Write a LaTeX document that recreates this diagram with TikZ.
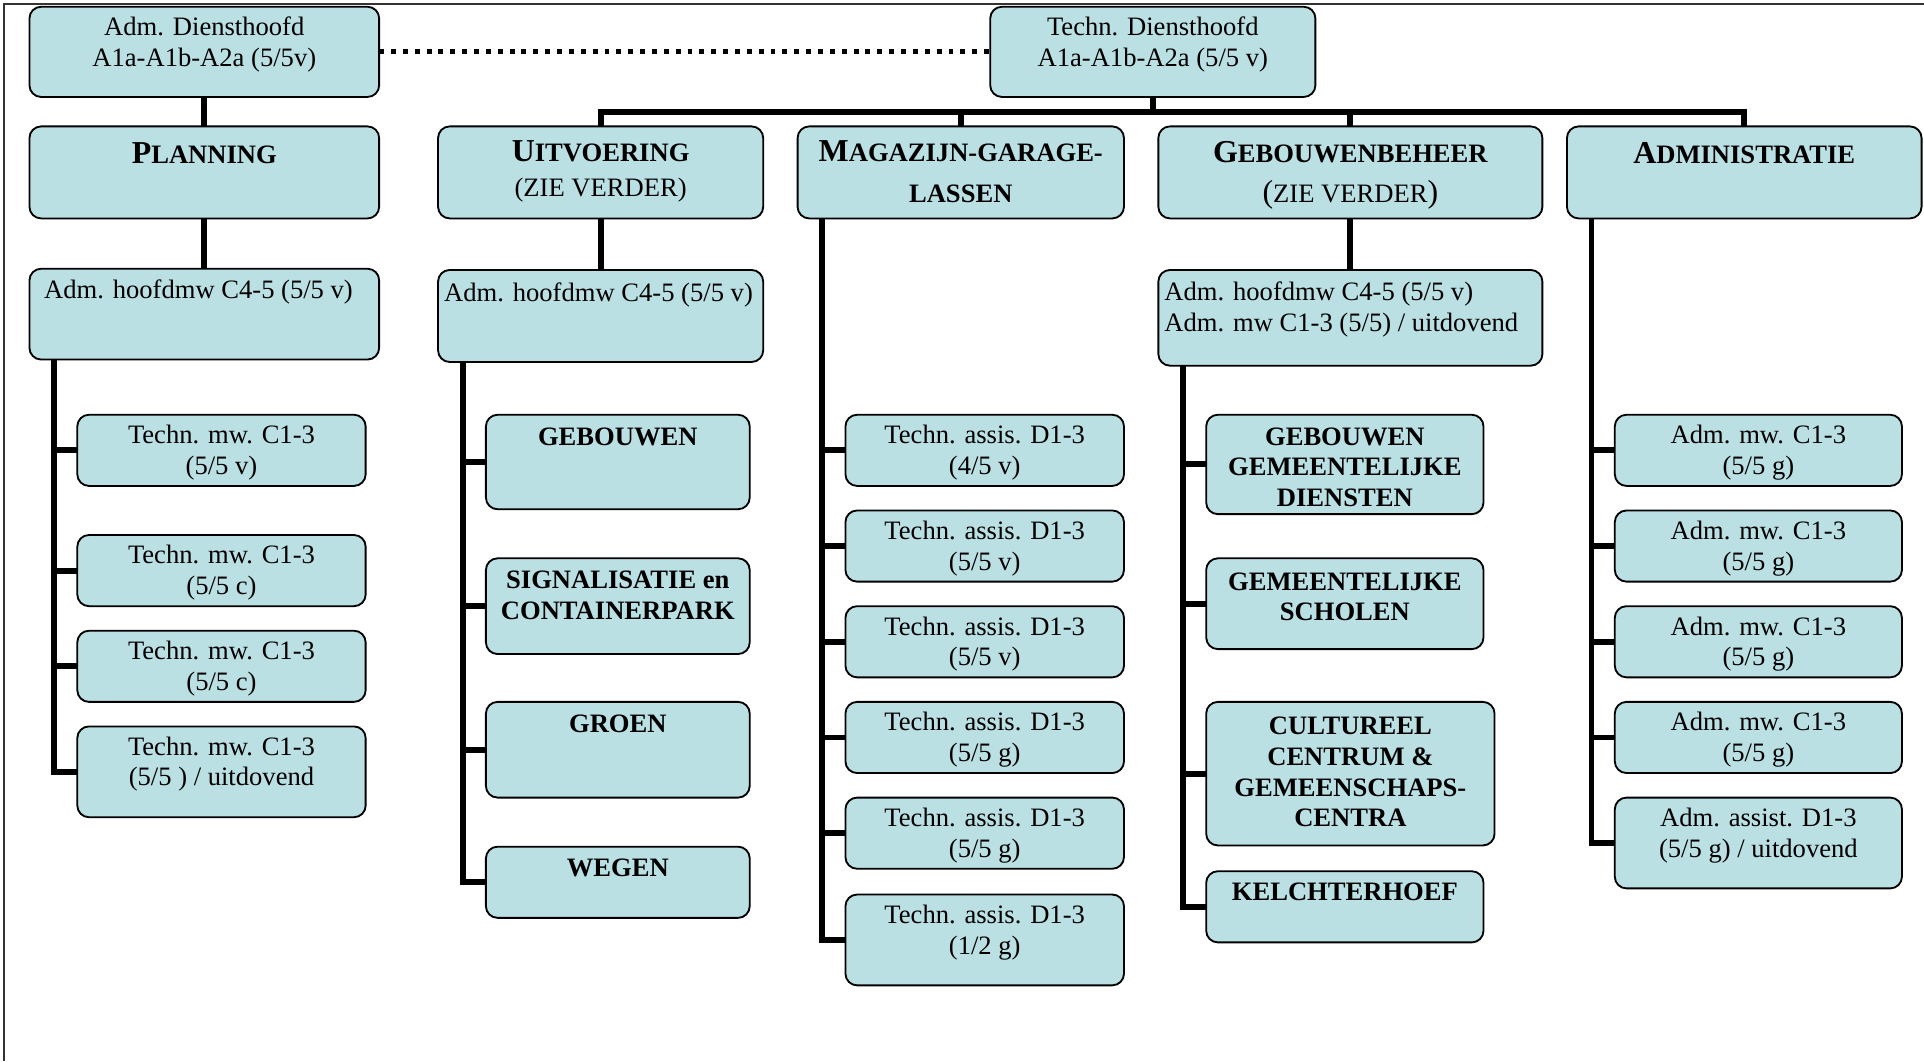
\documentclass[tikz,border=0pt]{standalone}
\usepackage{fontspec}
\setmainfont{Liberation Serif}
\definecolor{boxfill}{HTML}{BAE0E3}
\newcommand{\obox}[5]{\node[orgbox, minimum width={(#4-#2)*0.6pt}, minimum height={(#5-#3)*0.6pt}] (#1) at ({(#2+#4)/2},{(#3+#5)/2}) {};}
\newcommand{\hcap}[1]{{\fontsize{15.6}{15.6}\selectfont #1}}
\newcommand{\ctext}[4][txt]{\node[#1, anchor=north] at ([yshift=#2]#3.north) {#4};}
\tikzset{
  orgbox/.style={draw=black, line width=0.9pt, fill=boxfill, rounded corners=5.7pt, inner sep=0pt, outer sep=0pt},
  conn/.style={draw=black, line width=2.9pt, line join=miter},
  barline/.style={draw=black, line width=3pt, line join=miter},
  dotline/.style={draw=black, line width=2.5pt, dash pattern=on 2.4pt off 3.4pt},
  frameline/.style={draw=black!80, line width=0.8pt},
  txt/.style={inner sep=0pt, outer sep=0pt, align=center, font=\fontsize{13}{15}\selectfont, execute at begin node=\strut},
  btxt/.style={txt, font=\fontsize{13}{15}\selectfont\bfseries},
  ltxt/.style={txt, align=left},
  htxt/.style={inner sep=0pt, outer sep=0pt, align=center, font=\fontsize{13}{15.6}\selectfont\bfseries, execute at begin node=\strut},
}
\begin{document}
\begin{tikzpicture}[x=0.6pt,y=-0.6pt]
\useasboundingbox (0,0) rectangle (1568,865);
\draw[frameline] (1568,3.5) -- (3.5,3.5) -- (3.5,865);
% top level
\obox{admh}{24}{5.5}{309}{79}
\obox{techh}{807}{5.5}{1072}{79}
% row 2
\obox{plan}{24}{103}{309}{178}
\obox{uit}{357}{103}{622}{178}
\obox{mag}{650}{103}{916}{178}
\obox{geb}{944}{103}{1257}{178}
\obox{adm}{1277}{103}{1566}{178}
% row 3
\obox{p3}{24}{219}{309}{293}
\obox{u3}{357}{220}{622}{295}
\obox{g3}{944}{220}{1257}{298}
% planning children
\obox{pa}{63}{338}{298}{396}
\obox{pb}{63}{436}{298}{494}
\obox{pc}{63}{514}{298}{572}
\obox{pd}{63}{592}{298}{666}
% uitvoering children
\obox{ua}{396}{338}{611}{415}
\obox{ub}{396}{455}{611}{533}
\obox{uc}{396}{572}{611}{650}
\obox{ud}{396}{690}{611}{748}
% magazijn children
\obox{ma}{689}{338}{916}{396}
\obox{mb}{689}{416}{916}{474}
\obox{mc}{689}{494}{916}{552}
\obox{md}{689}{572}{916}{630}
\obox{me}{689}{650}{916}{708}
\obox{mf}{689}{729}{916}{803}
% gebouwenbeheer children
\obox{ga}{983}{338}{1209}{419}
\obox{gb}{983}{455}{1209}{529}
\obox{gc}{983}{572}{1218}{689}
\obox{gd}{983}{710}{1209}{768}
% administratie children
\obox{xa}{1316}{338}{1550}{396}
\obox{xb}{1316}{416}{1550}{474}
\obox{xc}{1316}{494}{1550}{552}
\obox{xd}{1316}{572}{1550}{630}
\obox{xe}{1316}{650}{1550}{724}
% connectors
\draw[dotline] (admh.east) -- (techh.west);
\draw[conn] (admh.south) -- (plan.north);
\coordinate (bar) at (939.5,91.3);
\draw[conn] (techh.south) -- (bar);
\coordinate (barl) at (uit.north |- bar);
\coordinate (barr) at (adm.north |- bar);
\draw[barline] ([xshift=-1.45pt]barl) -- ([xshift=1.45pt]barr);
\foreach \c in {uit,mag,geb,adm} \draw[conn] (bar) -| (\c.north);
\draw[conn] (plan.south) -- (p3.north);
\draw[conn] (uit.south) -- (u3.north);
\draw[conn] (geb.south) -- (g3.north);
\coordinate (pv) at (44,293);
\coordinate (uv) at (377,295);
\coordinate (mv) at (670,178);
\coordinate (gv) at (964,298);
\coordinate (xv) at (1297,178);
\foreach \c in {pa,pb,pc,pd} \draw[conn] (pv) |- (\c.west);
\foreach \c in {ua,ub,uc,ud} \draw[conn] (uv) |- (\c.west);
\foreach \c in {ma,mb,mc,md,me,mf} \draw[conn] (mv) |- (\c.west);
\foreach \c in {ga,gb,gc,gd} \draw[conn] (gv) |- (\c.west);
\foreach \c in {xa,xb,xc,xd,xe} \draw[conn] (xv) |- (\c.west);
% texts
\ctext{-5.1pt}{admh}{Adm. Diensthoofd\\A1a-A1b-A2a (5/5v)}
\ctext{-5.1pt}{techh}{Techn. Diensthoofd\\A1a-A1b-A2a (5/5 v)}
\node[htxt, anchor=north] at ([yshift=-7.1pt]plan.north) {\hcap{P}LANNING};
\node[htxt, anchor=north] at ([yshift=-7.1pt]uit.north) {\hcap{U}ITVOERING\\[1.2pt]{\mdseries (ZIE VERDER)}};
\node[htxt, anchor=north] at ([yshift=-7.1pt]mag.north) {\hcap{M}AGAZIJN-GARAGE-\\[4.2pt]LASSEN};
\node[htxt, anchor=north] at ([yshift=-7.1pt]geb.north) {\hcap{G}EBOUWENBEHEER\\[4.2pt]{\mdseries\hcap{(}ZIE VERDER\hcap{)}}};
\node[htxt, anchor=north] at ([yshift=-7.1pt]adm.north) {\hcap{A}DMINISTRATIE};
\node[ltxt, anchor=north west] at ([xshift=7.2pt,yshift=-3.9pt]p3.north west) {Adm. hoofdmw C4-5 (5/5 v)};
\node[ltxt, anchor=north west] at ([xshift=3pt,yshift=-5.1pt]u3.north west) {Adm. hoofdmw C4-5 (5/5 v)};
\node[ltxt, anchor=north west] at ([xshift=3pt,yshift=-5.7pt]g3.north west) {Adm. hoofdmw C4-5 (5/5 v)\\Adm. mw C1-3 (5/5) / uitdovend};
\ctext{-5.1pt}{pa}{Techn. mw. C1-3\\(5/5 v)}
\ctext{-5.1pt}{pb}{Techn. mw. C1-3\\(5/5 c)}
\ctext{-5.1pt}{pc}{Techn. mw. C1-3\\(5/5 c)}
\ctext{-5.1pt}{pd}{Techn. mw. C1-3\\(5/5 ) / uitdovend}
\ctext[btxt]{-4.5pt}{ua}{GEBOUWEN}
\ctext[btxt]{-6.3pt}{ub}{SIGNALISATIE en\\CONTAINERPARK}
\ctext[btxt]{-4.5pt}{uc}{GROEN}
\ctext[btxt]{-3.9pt}{ud}{WEGEN}
\ctext{-5.1pt}{ma}{Techn. assis. D1-3\\(4/5 v)}
\ctext{-5.4pt}{mb}{Techn. assis. D1-3\\(5/5 v)}
\ctext{-5.1pt}{mc}{Techn. assis. D1-3\\(5/5 v)}
\ctext{-5.1pt}{md}{Techn. assis. D1-3\\(5/5 g)}
\ctext{-5.1pt}{me}{Techn. assis. D1-3\\(5/5 g)}
\ctext{-5.1pt}{mf}{Techn. assis. D1-3\\(1/2 g)}
\ctext[btxt]{-6.3pt}{ga}{GEBOUWEN\\GEMEENTELIJKE\\DIENSTEN}
\ctext[btxt]{-6.9pt}{gb}{GEMEENTELIJKE\\SCHOLEN}
\ctext[btxt]{-7.5pt}{gc}{CULTUREEL\\CENTRUM \&\\GEMEENSCHAPS-\\CENTRA}
\ctext[btxt]{-3.9pt}{gd}{KELCHTERHOEF}
\ctext{-5.1pt}{xa}{Adm. mw. C1-3\\(5/5 g)}
\ctext{-5.1pt}{xb}{Adm. mw. C1-3\\(5/5 g)}
\ctext{-5.1pt}{xc}{Adm. mw. C1-3\\(5/5 g)}
\ctext{-5.1pt}{xd}{Adm. mw. C1-3\\(5/5 g)}
\ctext{-5.1pt}{xe}{Adm. assist. D1-3\\(5/5 g) / uitdovend}
\end{tikzpicture}
\end{document}
